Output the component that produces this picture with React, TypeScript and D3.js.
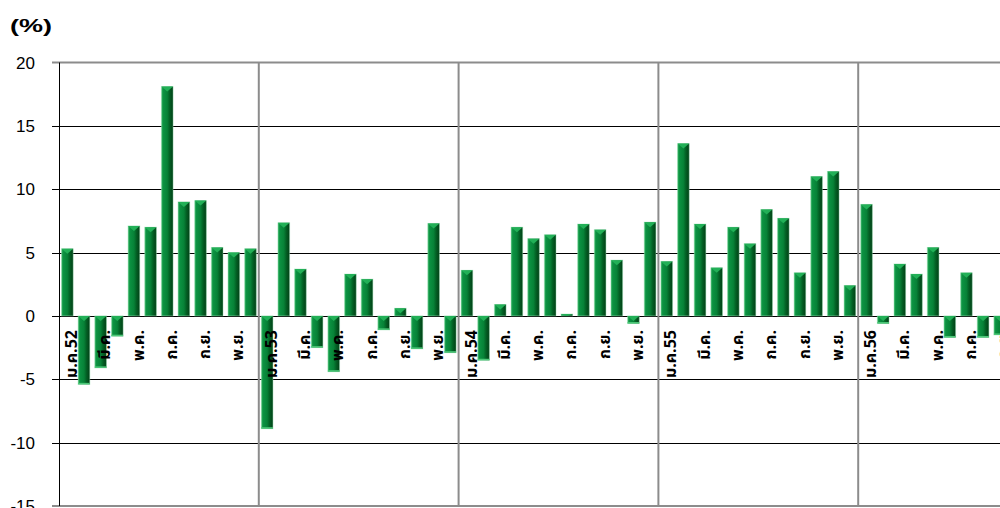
import { useEffect, useRef } from "react";
import * as d3 from "d3";

const years = ["52", "53", "54", "55", "56"];
const monthNames = ["ม.ค.", "ก.พ.", "มี.ค.", "เม.ย.", "พ.ค.", "มิ.ย.", "ก.ค.", "ส.ค.", "ก.ย.", "ต.ค.", "พ.ย.", "ธ.ค."];

const values52 = [5.3, -5.4, -4.1, -1.6, 7.1, 7.0, 18.1, 9.0, 9.1, 5.4, 5.0, 5.3];
const values53 = [-8.9, 7.35, 3.7, -2.5, -4.4, 3.3, 2.9, -1.1, 0.6, -2.6, 7.3, -2.9];
const values54 = [3.6, -3.5, 0.9, 7.0, 6.1, 6.4, 0.15, 7.25, 6.8, 4.4, -0.6, 7.4];
const values55 = [4.3, 13.6, 7.25, 3.8, 7.0, 5.7, 8.4, 7.7, 3.4, 11.0, 11.4, 2.4];
const values56 = [8.8, -0.6, 4.1, 3.3, 5.4, -1.7, 3.4, -1.7, -1.5];

const yTicks = [20, 15, 10, 5, 0, -5, -10, -15];

interface Bar {
  key: string;
  value: number;
}

const allValues = [values52, values53, values54, values55, values56];
const categories: string[] = years.flatMap((y) => monthNames.map((m) => `${m}${y}`));
const bars: Bar[] = allValues.flatMap((vals, yi) =>
  vals.map((v, mi) => ({ key: `${monthNames[mi]}${years[yi]}`, value: v }))
);

export default function App() {
  const svgRef = useRef<SVGSVGElement>(null);
  const width = 1000;
  const height = 508;

  useEffect(() => {
    if (!svgRef.current) return;
    const svg = d3.select(svgRef.current);
    svg.selectAll("*").remove();

    const left = 59;
    const monthW = 16.65;
    const x = d3
      .scaleBand<string>()
      .domain(categories)
      .range([left, left + monthW * categories.length])
      .paddingInner(0.3)
      .paddingOuter(0.15);

    const y = d3.scaleLinear().domain([-15, 20]).range([506, 62.5]);

    // gradient for the bars
    const defs = svg.append("defs");
    const grad = defs
      .append("linearGradient")
      .attr("id", "barGrad")
      .attr("x1", "0%")
      .attr("x2", "100%");
    grad.append("stop").attr("offset", "0%").attr("stop-color", "#36b463");
    grad.append("stop").attr("offset", "15%").attr("stop-color", "#0c9242");
    grad.append("stop").attr("offset", "50%").attr("stop-color", "#078237");
    grad.append("stop").attr("offset", "72%").attr("stop-color", "#035f24");
    grad.append("stop").attr("offset", "100%").attr("stop-color", "#023f16");

    // horizontal grid
    svg
      .append("g")
      .selectAll("line")
      .data(yTicks.filter((t) => t !== 20 && t !== -15))
      .enter()
      .append("line")
      .attr("x1", left)
      .attr("x2", width)
      .attr("y1", (d) => Math.round(y(d)) + 0.5)
      .attr("y2", (d) => Math.round(y(d)) + 0.5)
      .attr("stroke", "#000")
      .attr("stroke-width", 1);

    // year separators
    const yearStarts = years.slice(1).map((yr) => `${monthNames[0]}${yr}`);
    svg
      .append("g")
      .selectAll("line")
      .data(yearStarts)
      .enter()
      .append("line")
      .attr("x1", (d) => (x(d) ?? 0) - (x.step() * x.paddingInner()) / 2)
      .attr("x2", (d) => (x(d) ?? 0) - (x.step() * x.paddingInner()) / 2)
      .attr("y1", y(20))
      .attr("y2", y(-15))
      .attr("stroke", "#8c8c8c")
      .attr("stroke-width", 2);

    // top / bottom border
    [20, -15].forEach((t) => {
      svg
        .append("line")
        .attr("x1", 52)
        .attr("x2", width)
        .attr("y1", y(t))
        .attr("y2", y(t))
        .attr("stroke", "#8c8c8c")
        .attr("stroke-width", 2);
    });

    // bars
    const bw = x.bandwidth();
    const barG = svg
      .append("g")
      .selectAll("g.bar")
      .data(bars)
      .enter()
      .append("g")
      .attr("class", "bar");

    barG
      .append("rect")
      .attr("x", (d) => x(d.key) ?? 0)
      .attr("y", (d) => y(Math.max(0, d.value)))
      .attr("width", bw)
      .attr("height", (d) => Math.abs(y(d.value) - y(0)))
      .attr("fill", "url(#barGrad)")
      .attr("stroke", "#8fdcaa")
      .attr("stroke-opacity", 0.45)
      .attr("stroke-width", 1);

    // bevel on top of each bar
    barG
      .append("path")
      .attr("d", (d) => {
        const x0 = x(d.key) ?? 0;
        const top = y(Math.max(0, d.value));
        const h = Math.min(5, Math.abs(y(d.value) - y(0)));
        return `M${x0},${top}L${x0 + bw},${top}L${x0 + bw / 2},${top + h}Z`;
      })
      .attr("fill", "#22b057");

    // light strip at bar end for negatives
    barG
      .filter((d) => d.value < 0)
      .append("rect")
      .attr("x", (d) => x(d.key) ?? 0)
      .attr("y", (d) => y(d.value) - 1.5)
      .attr("width", bw)
      .attr("height", 1.5)
      .attr("fill", "#4cc878");

    // y axis
    svg
      .append("line")
      .attr("x1", left + 0.5)
      .attr("x2", left + 0.5)
      .attr("y1", y(20))
      .attr("y2", y(-15))
      .attr("stroke", "#000")
      .attr("stroke-width", 1);

    svg
      .append("g")
      .selectAll("line")
      .data(yTicks.filter((t) => t !== 20 && t !== -15))
      .enter()
      .append("line")
      .attr("x1", 52)
      .attr("x2", left)
      .attr("y1", (d) => Math.round(y(d)) + 0.5)
      .attr("y2", (d) => Math.round(y(d)) + 0.5)
      .attr("stroke", "#000");

    svg
      .append("g")
      .selectAll("text")
      .data(yTicks)
      .enter()
      .append("text")
      .attr("x", 35)
      .attr("y", (d) => y(d))
      .attr("dy", "0.36em")
      .attr("text-anchor", "end")
      .attr("font-family", "Arial, 'Liberation Sans', sans-serif")
      .attr("font-size", 17)
      .attr("fill", "#000")
      .text((d) => d);

    // category labels, every second month
    const labelled = categories.filter((_, i) => i % 2 === 0);
    svg
      .append("g")
      .selectAll("text")
      .data(labelled)
      .enter()
      .append("text")
      .attr("transform", (d) => `translate(${(x(d) ?? 0) + bw / 2 + 4},330) rotate(-90)`)
      .attr("dy", "0.35em")
      .attr("text-anchor", "end")
      .attr("font-family", "Tahoma, 'Noto Sans Thai', 'DejaVu Sans', sans-serif")
      .attr("font-size", 16)
      .attr("font-weight", "bold")
      .attr("fill", "#000")
      .text((d) => (d.startsWith(monthNames[0]) ? d : d.slice(0, -2)));

    // unit label
    svg
      .append("text")
      .attr("x", 10)
      .attr("y", 32)
      .attr("font-family", "Arial, 'Liberation Sans', sans-serif")
      .attr("font-size", 18)
      .attr("font-weight", "bold")
      .attr("textLength", 42)
      .attr("lengthAdjust", "spacingAndGlyphs")
      .attr("fill", "#000")
      .text("(%)");
  }, []);

  return (
    <div style={{ position: "fixed", left: 0, top: 0, width, height, overflow: "hidden", background: "#fff" }}>
      <svg ref={svgRef} width={width} height={height} style={{ display: "block" }} />
    </div>
  );
}
